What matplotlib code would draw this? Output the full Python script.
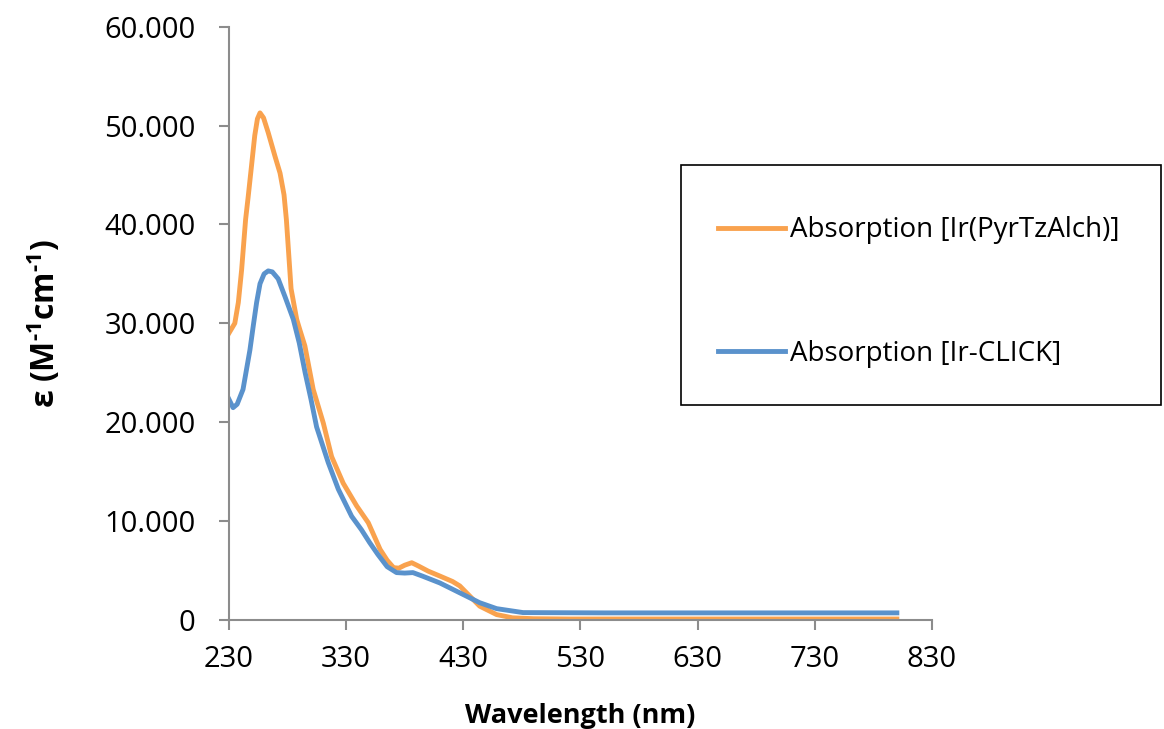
import numpy as np
import matplotlib
matplotlib.use("Agg")
from matplotlib import pyplot as plt
from matplotlib.ticker import FuncFormatter
from matplotlib.patches import Rectangle

# dati (lunghezza d'onda in nm, epsilon in M-1 cm-1)
wl_pyr = [230, 231, 235, 238, 240.8, 244.2, 246.4, 249.3, 252, 254.3, 256.5, 259.5, 263.5, 269.3, 273.6, 277,
          279, 281, 283, 287.8, 290.6, 294.8, 301.9, 310.5, 317.6, 327.5, 339, 348.9, 359, 365, 370.5, 375,
          380, 386, 392, 400, 410, 420.8, 427, 444, 458.4, 472, 490, 520, 600, 700, 800]
eps_pyr = [29000, 29200, 30000, 32100, 35400, 40500, 42800, 46000, 49000, 50700, 51300, 50800, 49300, 46900,
           45200, 43000, 40500, 37000, 33500, 30400, 29300, 27700, 23300, 19900, 16500, 13800, 11500, 9800,
           7100, 6000, 5250, 5200, 5500, 5750, 5400, 4900, 4400, 3850, 3400, 1350, 500, 170, 80, 50, 50, 50, 50]

wl_click = [230, 233.5, 237, 242, 247.9, 250.7, 253.6, 256.5, 260, 263.5, 267, 272, 277.8, 284.9, 290, 295,
            300, 304.8, 314.7, 323.3, 334.7, 343, 350, 357, 365, 373, 380, 387, 395, 410, 427, 444, 458.4, 481,
            550, 650, 750, 800]
eps_click = [22300, 21450, 21800, 23300, 27300, 29700, 32100, 34000, 35000, 35300, 35200, 34500, 32700, 30400,
             28000, 25000, 22300, 19500, 15900, 13200, 10450, 9100, 7800, 6600, 5350, 4750, 4700, 4750, 4400,
             3700, 2700, 1700, 1100, 700, 670, 670, 670, 670]

labels = ["Absorption [Ir(PyrTzAlch)]", "Absorption [Ir-CLICK]"]
x_ticks = [230, 330, 430, 530, 630, 730, 830]
y_ticks = [0, 10000, 20000, 30000, 40000, 50000, 60000]

plt.rcParams['font.family'] = ['Open Sans', 'DejaVu Sans']
plt.rcParams['mathtext.fontset'] = 'custom'
plt.rcParams['mathtext.rm'] = 'Open Sans:bold'
plt.rcParams['mathtext.it'] = 'Open Sans:bold'
plt.rcParams['mathtext.bf'] = 'Open Sans:bold'

fig = plt.figure(figsize=(11.64, 7.29), dpi=100)
ax = fig.add_axes([0.1967, 0.1502, 0.604, 0.8128])

ax.plot(wl_pyr, eps_pyr, color='#F9A24E', lw=3.5, label=labels[0], solid_joinstyle='round')
ax.plot(wl_click, eps_click, color='#5A92CC', lw=3.5, label=labels[1], solid_joinstyle='round')

ax.set_xlim(230, 830)
ax.set_ylim(0, 60000)
ax.set_xticks(x_ticks)
ax.set_yticks(y_ticks)
# separatore delle migliaia col punto, come nell'originale
ax.yaxis.set_major_formatter(FuncFormatter(lambda v, p: "0" if v == 0 else f"{int(v):,}".replace(",", ".")))

for s in ['top', 'right']:
    ax.spines[s].set_visible(False)
for s in ['left', 'bottom']:
    ax.spines[s].set_color('#8c8c8c')
    ax.spines[s].set_linewidth(1.5)
ax.tick_params(colors='#8c8c8c', width=1.5, length=7, labelsize=21, labelcolor='black')
ax.tick_params(axis='y', pad=17)
ax.tick_params(axis='x', pad=11)

ax.set_xlabel('Wavelength (nm)', fontsize=19.5, fontweight='bold', labelpad=21)
ax.set_ylabel(r'ε (M$^{\text{-1}}$cm$^{\text{-1}}$)', fontsize=23, fontweight='bold', labelpad=30)

# riquadro della legenda disegnato a mano
fig.patches.append(Rectangle((681 / 1164, 1 - 405 / 729), 480 / 1164, 240 / 729, transform=fig.transFigure,
                             fill=False, edgecolor='black', lw=1.2))
leg = fig.legend(loc='center left', bbox_to_anchor=(718 / 1164, 1 - 292 / 729), frameon=False,
                 fontsize=20, handlelength=2.4, handletextpad=0.18, labelspacing=3.42,
                 borderaxespad=0, borderpad=0)

fig.savefig('out.png', dpi=100)
